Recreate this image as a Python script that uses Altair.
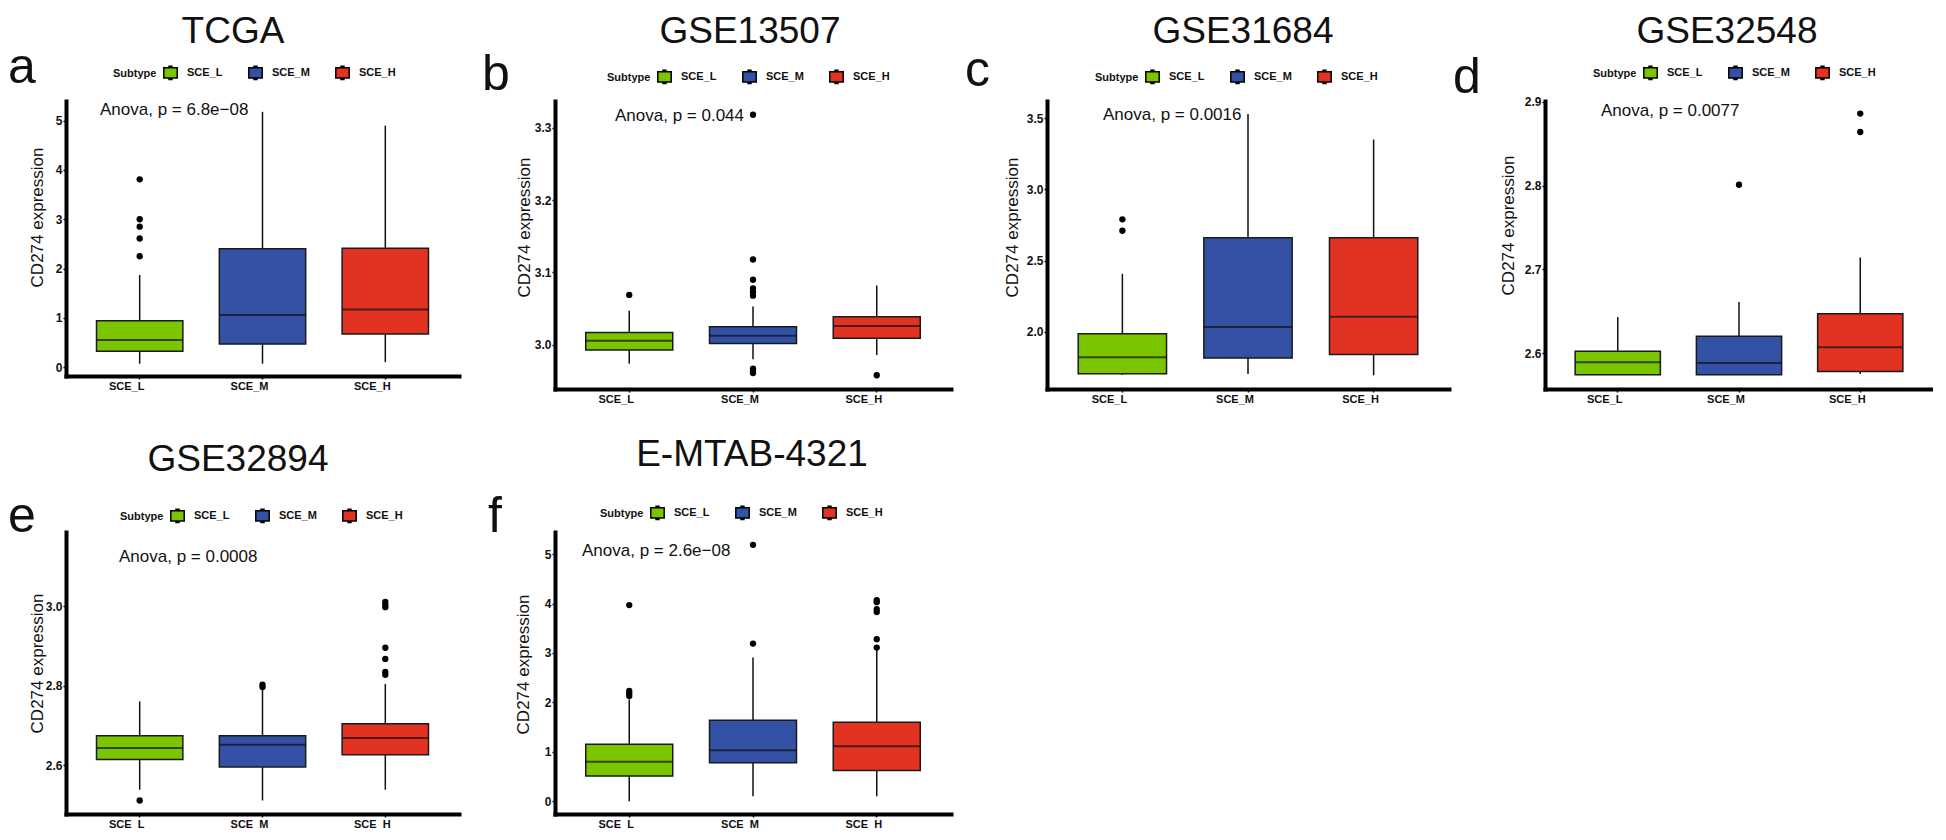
import altair as alt
import pandas as pd

FONT = "Liberation Sans"

# ---------------- data ----------------
GROUPS = ["SCE_L", "SCE_M", "SCE_H"]
COLORS = ["#7ac400", "#3352a6", "#e13222"]

DATASETS = ["TCGA", "GSE13507", "GSE31684", "GSE32548", "GSE32894", "E-MTAB-4321"]
LETTERS = ["a", "b", "c", "d", "e", "f"]
PVALUES = ["6.8e\u221208", "0.044", "0.0016", "0.0077", "0.0008", "2.6e\u221208"]

LOWER = [
    [0.07, 0.07, 0.10],
    [2.974, 2.980, 2.986],
    [1.700, 1.705, 1.696],
    [2.574, 2.574, 2.575],
    [2.539, 2.512, 2.539],
    [0.00, 0.10, 0.10],
]
Q1 = [
    [0.32, 0.47, 0.67],
    [2.993, 3.002, 3.009],
    [1.707, 1.818, 1.842],
    [2.574, 2.574, 2.578],
    [2.615, 2.596, 2.627],
    [0.51, 0.78, 0.62],
]
MEDIAN = [
    [0.55, 1.06, 1.17],
    [3.0056, 3.0125, 3.026],
    [1.823, 2.035, 2.106],
    [2.589, 2.588, 2.607],
    [2.644, 2.652, 2.669],
    [0.80, 1.03, 1.11],
]
Q3 = [
    [0.94, 2.40, 2.41],
    [3.017, 3.025, 3.039],
    [1.988, 2.660, 2.660],
    [2.602, 2.620, 2.647],
    [2.675, 2.675, 2.705],
    [1.15, 1.64, 1.60],
]
UPPER = [
    [1.87, 5.18, 4.90],
    [3.047, 3.053, 3.082],
    [2.408, 3.529, 3.350],
    [2.643, 2.661, 2.714],
    [2.761, 2.805, 2.805],
    [2.06, 2.91, 3.09],
]
OUT_GROUPS = [
    ["SCE_L"] * 5,
    ["SCE_L"] + ["SCE_M"] * 9 + ["SCE_H"],
    ["SCE_L"] * 2,
    ["SCE_M"] + ["SCE_H"] * 2,
    ["SCE_L"] + ["SCE_M"] * 2 + ["SCE_H"] * 7,
    ["SCE_L"] * 4 + ["SCE_M"] * 2 + ["SCE_H"] * 6,
]
OUT_VALUES = [
    [3.81, 3.00, 2.85, 2.61, 2.25],
    [3.069, 3.318, 3.118, 3.090, 3.078, 3.073, 3.068, 2.967, 2.964, 2.961, 2.958],
    [2.79, 2.71],
    [2.801, 2.886, 2.864],
    [2.512, 2.803, 2.797, 3.011, 3.004, 2.998, 2.896, 2.868, 2.835, 2.828],
    [3.97, 2.23, 2.18, 2.13, 5.19, 3.19, 4.07, 4.03, 3.89, 3.83, 3.28, 3.11],
]
Y_DOMAINS = [[-0.18, 5.40], [2.939, 3.337], [1.60, 3.62], [2.557, 2.901], [2.478, 3.187], [-0.26, 5.45]]
Y_TICKS = [[0, 1, 2, 3, 4, 5], [3.0, 3.1, 3.2, 3.3], [2.0, 2.5, 3.0, 3.5],
           [2.6, 2.7, 2.8, 2.9], [2.6, 2.8, 3.0], [0, 1, 2, 3, 4, 5]]
Y_FORMATS = ["d", ".1f", ".1f", ".1f", ".1f", "d"]

# ---------------- layout (pixels, relative to each plot's top-left) ----------------
W = [393, 396, 402, 388, 393, 396]
H = [275, 288, 288, 288, 282, 282]
TITLE_XY = [(167, -58), (195, -58), (196, -58), (182, -58), (172, -61), (197, -66)]
LETTER_XY = [(-58, -18), (-73, -11), (-82, -15), (-92, -8), (-58, 0), (-67, 0)]
LEGEND_XY = [(47, -36), (52, -32), (48, -32), (48, -36), (54, -24), (45, -27)]
ANOVA_XY = [(34, 9), (60, 15), (56, 14), (56, 10), (53, 25), (27, 19)]
YTITLE_XY = [(-29, 116), (-31, 126), (-35, 126), (-37, 124), (-29, 131), (-32, 132)]

SYMBOL = ("M-1,-0.75L1,-0.75L1,0.75L-1,0.75Z"
          "M-0.22,-0.75L-0.22,-1L0.22,-1L0.22,-0.75Z"
          "M-0.22,0.75L-0.22,1L0.22,1L0.22,0.75Z")


def text_layer(text, x, y, size, align="left", baseline="alphabetic"):
    return alt.Chart(pd.DataFrame({"t": [text]})).mark_text(
        font=FONT, fontSize=size, align=align, baseline=baseline, color="#111111"
    ).encode(text="t:N", x=alt.value(x), y=alt.value(y))


def panel(i):
    stats = pd.DataFrame({
        "Subtype": GROUPS, "lower": LOWER[i], "q1": Q1[i], "median": MEDIAN[i],
        "q3": Q3[i], "upper": UPPER[i],
    })
    outl = pd.DataFrame({"Subtype": OUT_GROUPS[i], "value": OUT_VALUES[i]})
    w, h = W[i], H[i]
    band = w / 3.2 * 0.703

    xenc = alt.X("Subtype:N",
                 scale=alt.Scale(domain=GROUPS, paddingInner=0.297, paddingOuter=0.2485),
                 axis=alt.Axis(title=None, labelOffset=-13, labelPadding=1, labelAngle=0))
    yscale = alt.Scale(domain=Y_DOMAINS[i], nice=False, zero=False)
    yaxis = alt.Axis(title="CD274 expression", values=Y_TICKS[i], format=Y_FORMATS[i],
                     labelPadding=1, labelFontSize=12,
                     titleX=YTITLE_XY[i][0], titleY=YTITLE_XY[i][1],
                     titleBaseline="middle", titleAngle=270)

    base = alt.Chart(stats)
    whisk = base.mark_rule(color="#111111", strokeWidth=1.5).encode(
        x=xenc, y=alt.Y("lower:Q", scale=yscale, axis=yaxis), y2="upper:Q")
    box = base.mark_bar(stroke="#1a1a1a", strokeWidth=1.5, opacity=1).encode(
        x=xenc, y=alt.Y("q1:Q", scale=yscale, axis=yaxis), y2="q3:Q",
        color=alt.Color("Subtype:N",
                        scale=alt.Scale(domain=GROUPS, range=COLORS),
                        legend=alt.Legend(
                            title="Subtype", orient="none",
                            legendX=LEGEND_XY[i][0], legendY=LEGEND_XY[i][1],
                            direction="horizontal", titleOrient="left",
                            symbolType=SYMBOL, symbolSize=180,
                            symbolStrokeColor="black", symbolStrokeWidth=1.5,
                            symbolOpacity=1,
                            labelFont=FONT, labelFontSize=11, labelFontWeight="bold",
                            labelColor="#111111",
                            titleFont=FONT, titleFontSize=11, titleFontWeight="bold",
                            titleColor="#111111",
                            columnPadding=22, labelOffset=9, titlePadding=6)))
    med = base.mark_tick(color="#111111", thickness=2, size=band).encode(
        x=xenc, y=alt.Y("median:Q", scale=yscale, axis=yaxis))
    pts = alt.Chart(outl).mark_circle(color="black", size=40, opacity=1).encode(
        x=xenc, y=alt.Y("value:Q", scale=yscale, axis=yaxis))

    title = text_layer(DATASETS[i], TITLE_XY[i][0], TITLE_XY[i][1], 37, align="center")
    letter = text_layer(LETTERS[i], LETTER_XY[i][0], LETTER_XY[i][1], 50)
    anova = text_layer("Anova, p = " + PVALUES[i], ANOVA_XY[i][0], ANOVA_XY[i][1], 17,
                       baseline="middle")

    return alt.layer(whisk, box, med, pts, title, letter, anova).properties(width=w, height=h)


panels = [panel(i) for i in range(6)]

chart = alt.concat(
    *panels, columns=4, spacing={"row": 143, "column": 96}, bounds="flush"
).resolve_scale(
    color="independent"
).resolve_legend(
    color="independent"
).configure_view(
    stroke=None
).configure_axis(
    domainColor="black", domainWidth=4, domainCap="square",
    tickColor="black", tickWidth=1.5, tickSize=3,
    labelFont=FONT, labelFontSize=11, labelFontWeight="bold", labelColor="#111111",
    titleFont=FONT, titleFontSize=17, titleFontWeight="normal", titleColor="#111111",
    grid=False,
).properties(padding={"top": 5, "left": 0, "right": 0, "bottom": 0})

chart.save("out.html", embed_options={"renderer": "svg", "actions": False})
